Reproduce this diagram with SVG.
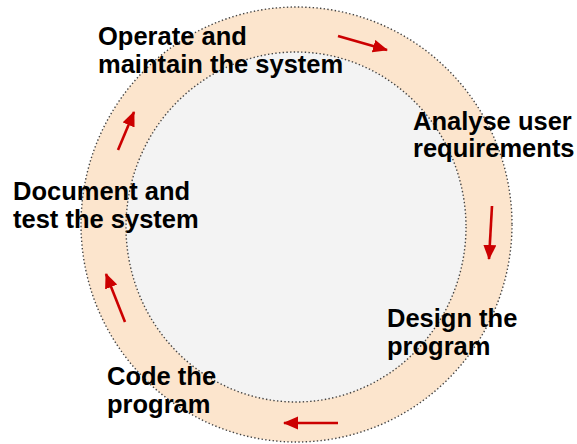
<svg xmlns="http://www.w3.org/2000/svg" width="577" height="444" viewBox="0 0 577 444">
<style>
.lbl{font-family:"Liberation Sans",Arial,sans-serif;font-weight:bold;font-size:25.5px;fill:#000}
.dot{stroke:#444;stroke-width:1.4;stroke-dasharray:1.4 2.3}
.arr{stroke:#CC0000;stroke-width:2.6;fill:none;marker-end:url(#ah)}
</style>
<defs>
<marker id="ah" markerUnits="userSpaceOnUse" markerWidth="16" markerHeight="14" refX="14" refY="6.5" orient="auto">
<path d="M0,0 L15,6.5 L0,13 Z" fill="#CC0000"/>
</marker>
</defs>
<rect width="577" height="444" fill="#fff"/>
<g id="ring">
<ellipse cx="296.5" cy="224.5" rx="215.5" ry="217.5" fill="#FCE5CD" class="dot"/>
<ellipse cx="296" cy="227" rx="170" ry="175" fill="#F3F3F3" class="dot"/>
</g>
<g id="connectors">
<line class="arr" x1="338" y1="36" x2="387" y2="50"/>
<line class="arr" x1="492" y1="206" x2="489" y2="259"/>
<line class="arr" x1="338" y1="423" x2="284" y2="423"/>
<line class="arr" x1="125" y1="322" x2="106" y2="274"/>
<line class="arr" x1="118" y1="150" x2="134" y2="112"/>
</g>
<g id="operate"><text class="lbl" x="98" y="45">Operate and</text><text class="lbl" x="98" y="73">maintain the system</text></g>
<g id="analyse"><text class="lbl" x="413" y="130">Analyse user</text><text class="lbl" x="413" y="157">requirements</text></g>
<g id="design"><text class="lbl" x="387" y="327">Design the</text><text class="lbl" x="387" y="355">program</text></g>
<g id="code"><text class="lbl" x="107" y="385">Code the</text><text class="lbl" x="107" y="413">program</text></g>
<g id="document"><text class="lbl" x="13" y="200">Document and</text><text class="lbl" x="13" y="228">test the system</text></g>
</svg>
